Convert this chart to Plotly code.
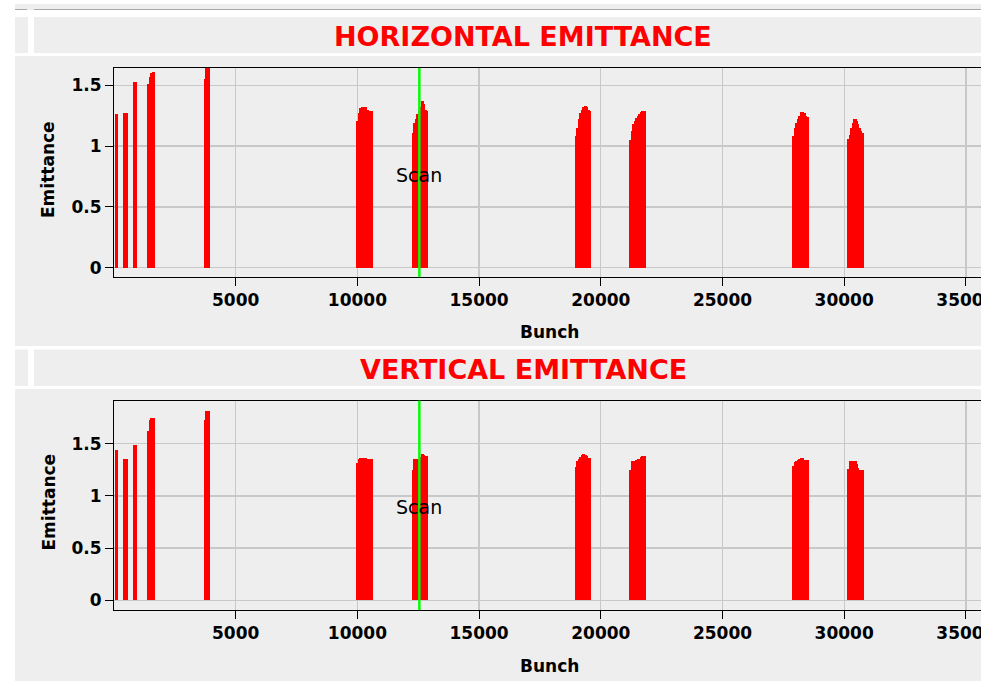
import plotly.graph_objects as go

# ---------------- data ----------------
bunch = [70, 130,
         410, 470, 530,
         800, 860, 920,
         1400, 1460, 1520, 1580, 1640,
         3730, 3790, 3850, 3910,
         10000, 10060, 10120, 10180, 10240, 10300, 10360, 10420, 10480, 10540, 10600,
         12270, 12330, 12390, 12450, 12510, 12570, 12630, 12690, 12750, 12810, 12870,
         18970, 19030, 19090, 19150, 19210, 19270, 19330, 19390, 19450, 19510, 19570,
         21210, 21270, 21330, 21390, 21450, 21510, 21570, 21630, 21690, 21750, 21810,
         27910, 27970, 28030, 28090, 28150, 28210, 28270, 28330, 28390, 28450, 28510,
         30170, 30230, 30290, 30350, 30410, 30470, 30530, 30590, 30650, 30710, 30770]

h_emittance = [1.26, 1.26,
               1.275, 1.275, 1.275,
               1.53, 1.53, 1.53,
               1.51, 1.57, 1.60, 1.61, 1.61,
               1.55, 1.70, 1.70, 1.70,
               1.21, 1.27, 1.31, 1.32, 1.32, 1.32, 1.32, 1.30, 1.29, 1.29, 1.29,
               1.105, 1.19, 1.22, 1.26, 1.29, 1.32, 1.37, 1.37, 1.35, 1.30, 1.29,
               1.08, 1.15, 1.22, 1.27, 1.30, 1.32, 1.33, 1.33, 1.32, 1.30, 1.29,
               1.05, 1.12, 1.18, 1.21, 1.23, 1.25, 1.26, 1.28, 1.29, 1.29, 1.29,
               1.08, 1.15, 1.19, 1.22, 1.25, 1.28, 1.28, 1.28, 1.27, 1.25, 1.24,
               1.06, 1.09, 1.15, 1.19, 1.22, 1.22, 1.21, 1.18, 1.15, 1.12, 1.105]

v_emittance = [1.44, 1.44,
               1.35, 1.35, 1.35,
               1.49, 1.49, 1.49,
               1.625, 1.73, 1.75, 1.75, 1.75,
               1.73, 1.81, 1.81, 1.81,
               1.32, 1.35, 1.365, 1.365, 1.365, 1.365, 1.36, 1.35, 1.35, 1.35, 1.35,
               1.25, 1.35, 1.35, 1.35, 1.35, 1.37, 1.40, 1.40, 1.39, 1.38, 1.38,
               1.275, 1.335, 1.35, 1.37, 1.39, 1.40, 1.40, 1.39, 1.38, 1.365, 1.365,
               1.25, 1.33, 1.33, 1.33, 1.34, 1.35, 1.35, 1.37, 1.38, 1.38, 1.38,
               1.285, 1.325, 1.33, 1.34, 1.35, 1.365, 1.365, 1.36, 1.34, 1.34, 1.34,
               1.26, 1.33, 1.335, 1.335, 1.335, 1.335, 1.31, 1.27, 1.25, 1.25, 1.25]

x_tick_values = [5000, 10000, 15000, 20000, 25000, 30000, 35000]
x_tick_labels = ["5000", "10000", "15000", "20000", "25000", "30000", "35000"]
y_tick_values = [0, 0.5, 1, 1.5]
y_tick_labels = ["0", "0.5", "1", "1.5"]
scan_bunch = 12545
panel_titles = ["HORIZONTAL EMITTANCE", "VERTICAL EMITTANCE"]
x_title = "Bunch"
y_title = "Emittance"
scan_label = "Scan"

# ---------------- layout helpers ----------------
W, H = 984, 683
L = 114
PW = W - L


def px(x):
    return (x - L) / PW


def py(y):
    return 1 - y / H


GRAY = "#eeeeee"
RED = "#ff0000"
bold = dict(family="DejaVu Sans", size=17, color="black", weight="bold")

fig = go.Figure()
fig.add_trace(go.Bar(x=bunch, y=h_emittance, width=75, marker=dict(color=RED, line=dict(width=0)),
                     xaxis="x", yaxis="y", showlegend=False, hoverinfo="skip"))
fig.add_trace(go.Bar(x=bunch, y=v_emittance, width=75, marker=dict(color=RED, line=dict(width=0)),
                     xaxis="x2", yaxis="y2", showlegend=False, hoverinfo="skip"))

xrange = [0, PW / 121.7 * 5000]
common_x = dict(range=xrange, tickvals=x_tick_values, ticktext=x_tick_labels,
                showgrid=True, gridcolor="#c8c8c8", gridwidth=1.3,
                ticks="outside", ticklen=8, tickcolor="black", tickwidth=1,
                showline=True, linecolor="black", linewidth=1, mirror=True,
                zeroline=False, tickfont=bold, domain=[0, 1], fixedrange=True,
                ticklabeloverflow="allow", automargin=False)
common_y = dict(tickvals=y_tick_values, ticktext=y_tick_labels,
                showgrid=True, gridcolor="#c8c8c8", gridwidth=1.3,
                ticks="outside", ticklen=8, tickcolor="black", tickwidth=1,
                showline=True, linecolor="black", linewidth=1, mirror=True,
                zeroline=False, tickfont=bold, fixedrange=True, automargin=False)

fig.update_layout(
    width=W, height=H,
    margin=dict(l=L, r=0, t=0, b=0, pad=0, autoexpand=False),
    paper_bgcolor="white", plot_bgcolor="white",
    bargap=0,
    xaxis=dict(anchor="y", **common_x),
    yaxis=dict(anchor="x", domain=[py(277), py(68)], range=[-0.077, 1.642], **common_y),
    xaxis2=dict(anchor="y2", **common_x),
    yaxis2=dict(anchor="x2", domain=[py(610), py(400.7)], range=[-0.093, 1.912], **common_y),
)

shapes = []


def rect(x0, y0, x1, y1, color, layer="below"):
    shapes.append(dict(type="rect", xref="paper", yref="paper",
                       x0=px(x0), x1=px(x1), y0=py(y1), y1=py(y0),
                       fillcolor=color, line=dict(width=0), layer=layer))


# top strip remnants
rect(15, 4, 981, 10, GRAY)
shapes.append(dict(type="line", xref="paper", yref="paper", x0=px(15), x1=px(27), y0=py(9.5), y1=py(9.5),
                   line=dict(color="#a8a8a8", width=1), layer="below"))
shapes.append(dict(type="line", xref="paper", yref="paper", x0=px(34), x1=px(981), y0=py(9.5), y1=py(9.5),
                   line=dict(color="#a8a8a8", width=1), layer="below"))
# title bars and panels
rect(15, 17, 28, 53, GRAY)
rect(34, 17, 981, 53, GRAY)
rect(15, 56, 981, 346, GRAY)
rect(15, 349.5, 28, 386, GRAY)
rect(34, 349.5, 981, 386, GRAY)
rect(15, 389, 981, 681, GRAY)
# right-edge clip strip
rect(981, 0, 990, 683, "white", layer="above")

# scan lines
for yref in ["y domain", "y2 domain"]:
    xr = "x" if yref == "y domain" else "x2"
    shapes.append(dict(type="line", xref=xr, yref=yref, x0=scan_bunch, x1=scan_bunch, y0=0, y1=1,
                       line=dict(color="#00ff00", width=2.5), layer="above"))
fig.update_layout(shapes=shapes)

ann = []
title_font = dict(family="DejaVu Sans", size=27, color=RED, weight="bold")
for t, yc in zip(panel_titles, [36, 369]):
    ann.append(dict(text=t, x=px(523), y=py(yc), xref="paper", yref="paper", showarrow=False,
                    xanchor="center", yanchor="middle", font=title_font))
for yc in [170, 502.5]:
    ann.append(dict(text=y_title, x=px(48), y=py(yc), xref="paper", yref="paper", showarrow=False,
                    textangle=-90, xanchor="center", yanchor="middle", font=bold))
for yc in [332, 665.5]:
    ann.append(dict(text=x_title, x=px(549), y=py(yc), xref="paper", yref="paper", showarrow=False,
                    xanchor="center", yanchor="middle", font=bold))
for xr, yr in [("x", "y domain"), ("x2", "y2 domain")]:
    ann.append(dict(text=scan_label, x=scan_bunch, y=0.49, xref=xr, yref=yr, showarrow=False,
                    xanchor="center", yanchor="middle",
                    font=dict(family="DejaVu Sans", size=19, color="black")))
fig.update_layout(annotations=ann)

fig.write_html("out.html", config={"displayModeBar": False, "staticPlot": True},
               post_script="document.body.style.margin='0';document.body.style.overflow='hidden';")
